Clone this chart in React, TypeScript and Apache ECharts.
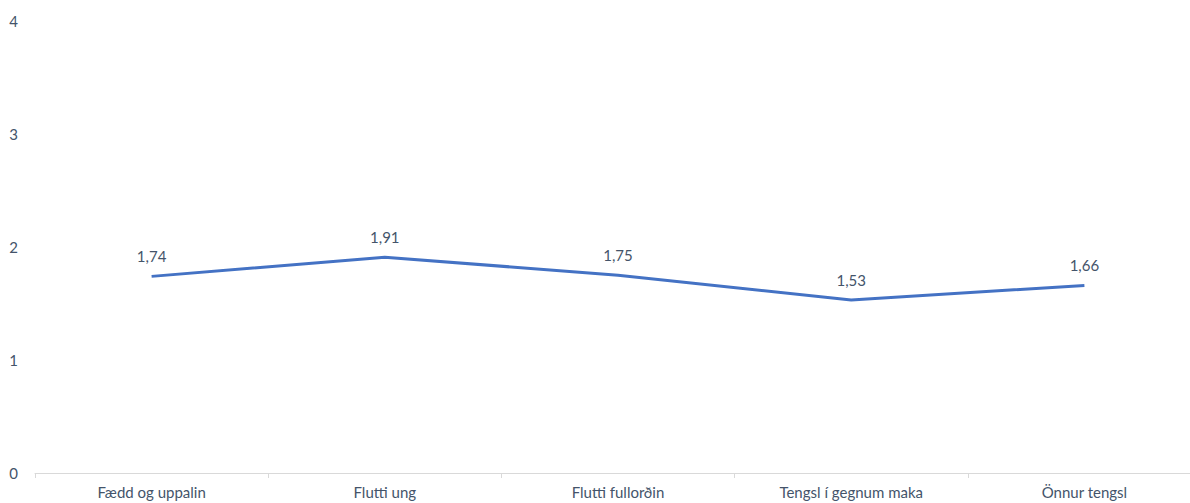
import React, { useEffect, useRef } from "react";
import * as echarts from "echarts";

const categories = ["Fædd og uppalin", "Flutti ung", "Flutti fullorðin", "Tengsl í gegnum maka", "Önnur tengsl"];
const values = [1.74, 1.91, 1.75, 1.53, 1.66];
const yTicks = [0, 1, 2, 3, 4];

const textColor = "#44546a";
const font = "Lato, 'Open Sans', sans-serif";

export default function App() {
  const ref = useRef<HTMLDivElement>(null);
  useEffect(() => {
    if (!ref.current) return;
    const chart = echarts.init(ref.current, null, { renderer: "svg" });
    chart.setOption({
      animation: false,
      grid: { left: 35, right: 0, top: 21, bottom: 30, containLabel: false },
      xAxis: {
        type: "category",
        data: categories,
        boundaryGap: true,
        axisLine: { lineStyle: { color: "#d9d9d9", width: 1 } },
        axisTick: { show: true, length: 5, lineStyle: { color: "#d9d9d9" } },
        axisLabel: { color: textColor, fontSize: 15, fontFamily: font, margin: 11, interval: 0 },
      },
      yAxis: {
        type: "value",
        min: yTicks[0],
        max: yTicks[yTicks.length - 1],
        interval: 1,
        splitLine: { show: false },
        axisLine: { show: false },
        axisTick: { show: false },
        axisLabel: { color: textColor, fontSize: 15, fontFamily: font, margin: 17 },
      },
      series: [
        {
          type: "line",
          data: values,
          symbol: "circle",
          symbolSize: 0,
          showSymbol: true,
          lineStyle: { color: "#4472c4", width: 3 },
          itemStyle: { color: "#4472c4" },
          label: {
            show: true,
            position: "top",
            distance: 13,
            color: textColor,
            fontSize: 15,
            fontFamily: font,
            formatter: (p: any) => Number(p.value).toFixed(2).replace(".", ","),
          },
        },
      ],
    });
    return () => chart.dispose();
  }, []);
  return (
    <div style={{ position: "fixed", left: 0, top: 0, width: 1190, height: 503, overflow: "hidden", background: "#fff" }}>
      <div ref={ref} style={{ width: 1201, height: 503 }} />
    </div>
  );
}
